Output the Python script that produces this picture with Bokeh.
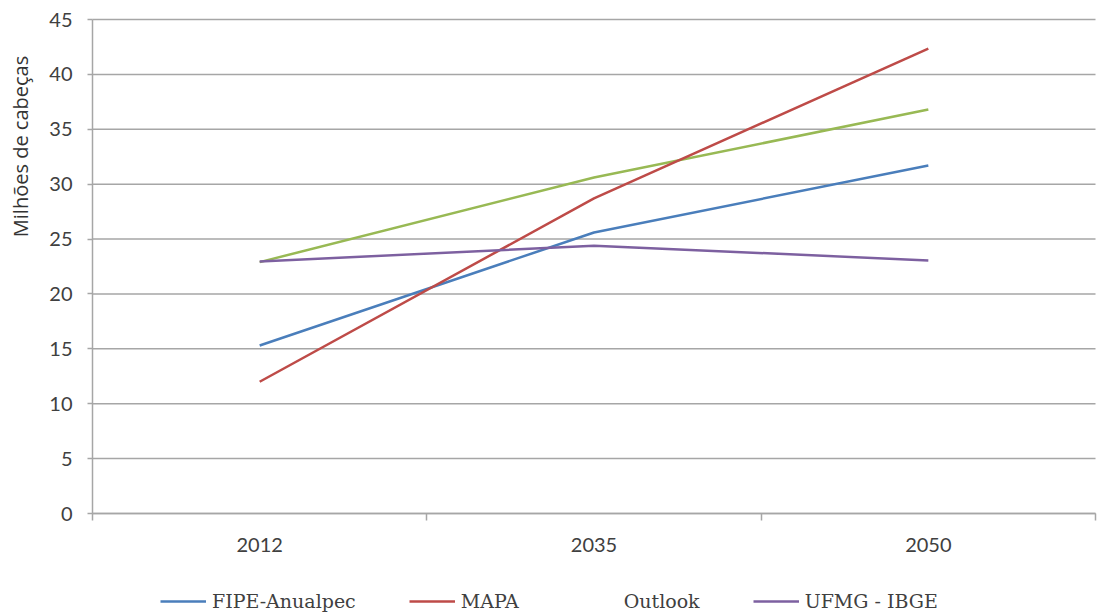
import math
from bokeh.plotting import figure
from bokeh.models import (Range1d, FixedTicker, Legend, LegendItem, Label)
from bokeh.embed import file_html
from bokeh.resources import INLINE

years = ["2012", "2035", "2050"]
fipe = [15.3, 25.6, 31.7]
mapa = [12.0, 28.7, 42.35]
outlook = [22.9, 30.6, 36.8]
ufmg = [22.95, 24.4, 23.05]
y_ticks = [0, 5, 10, 15, 20, 25, 30, 35, 40, 45]

# ---- layout constants (pixels) ----
W, H = 1098, 614
PL, PR, PT, PB = 92, 1095, 19, 513      # plot-area edges in the page
n = len(years)
y_min, y_max = y_ticks[0], y_ticks[-1]
ux = (PR - PL) / n                       # px per category
uy = (PB - PT) / (y_max - y_min)         # px per unit

x_range = Range1d(-PL / ux, n + (W - PR) / ux)
y_range = Range1d(y_min - (H - PB) / uy, y_max + PT / uy)

p = figure(width=W, height=H, output_backend="svg", toolbar_location=None,
           x_range=x_range, y_range=y_range,
           min_border=0, min_border_left=0, min_border_right=0,
           min_border_top=0, min_border_bottom=0)
p.outline_line_color = None
p.background_fill_color = "white"
p.border_fill_color = "white"
p.xgrid.visible = False
p.ygrid.visible = False

grid_col = "#a6a6a6"
tick_font = "Lato"
txt_col = "#404040"

xs = [i + 0.5 for i in range(n)]

# horizontal grid lines at the y ticks, spanning the category area
p.segment(x0=[0] * len(y_ticks), x1=[n] * len(y_ticks), y0=y_ticks, y1=y_ticks,
          line_color=grid_col, line_width=1.5)

# x axis
xa = p.xaxis[0]
xa.fixed_location = y_min
xa.bounds = (0, n)
xa.ticker = FixedTicker(ticks=xs, minor_ticks=[float(i) for i in range(n + 1)])
xa.major_label_overrides = {x: y for x, y in zip(xs, years)}
xa.major_tick_line_color = None
xa.minor_tick_in = 0
xa.minor_tick_out = 7
xa.minor_tick_line_color = grid_col
xa.minor_tick_line_width = 1.5
xa.axis_line_color = grid_col
xa.axis_line_width = 1.5
xa.major_label_text_font = tick_font
xa.major_label_text_font_size = "20px"
xa.major_label_text_color = txt_col
xa.major_label_standoff = 17

# y axis
ya = p.yaxis[0]
ya.fixed_location = 0
ya.bounds = (y_min, y_max)
ya.ticker = FixedTicker(ticks=y_ticks, minor_ticks=[])
ya.major_tick_in = 0
ya.major_tick_out = 5
ya.major_tick_line_color = grid_col
ya.major_tick_line_width = 1.5
ya.axis_line_color = grid_col
ya.axis_line_width = 1.5
ya.major_label_text_font = tick_font
ya.major_label_text_font_size = "20px"
ya.major_label_text_color = txt_col
ya.major_label_standoff = 15

lw = 2.5
r_out = p.line(xs, outlook, line_color="#98b954", line_width=lw)
r_fipe = p.line(xs, fipe, line_color="#4a7ebb", line_width=lw)
r_mapa = p.line(xs, mapa, line_color="#be4b48", line_width=lw)
r_ufmg = p.line(xs, ufmg, line_color="#7d60a0", line_width=lw)
# legend swatch for Outlook is drawn pale in the original
r_out_leg = p.line([], [], line_color="#e6e6cc", line_width=1.5)

legend = Legend(items=[
    LegendItem(label="FIPE-Anualpec", renderers=[r_fipe]),
    LegendItem(label="MAPA", renderers=[r_mapa]),
    LegendItem(label="Outlook", renderers=[r_out_leg]),
    LegendItem(label="UFMG - IBGE", renderers=[r_ufmg]),
], orientation="horizontal", location=(160, 0))
legend.border_line_color = None
legend.background_fill_alpha = 0
legend.padding = 0
legend.margin = 0
legend.spacing = 53
legend.glyph_width = 46
legend.glyph_height = 26
legend.label_height = 26
legend.label_standoff = 6
legend.label_text_font = "DejaVu Serif"
legend.label_text_font_size = "19px"
legend.label_text_color = txt_col
p.add_layout(legend, "center")

ylab = Label(x=(20 - PL) / ux, y=y_max - (146 - PT) / uy, text="Milhões de cabeças",
             angle=math.pi / 2, text_align="center", text_baseline="middle",
             text_font="Open Sans", text_font_size="20px", text_color="#333333")
p.add_layout(ylab)

open("out.html", "w").write(file_html(p, INLINE))
